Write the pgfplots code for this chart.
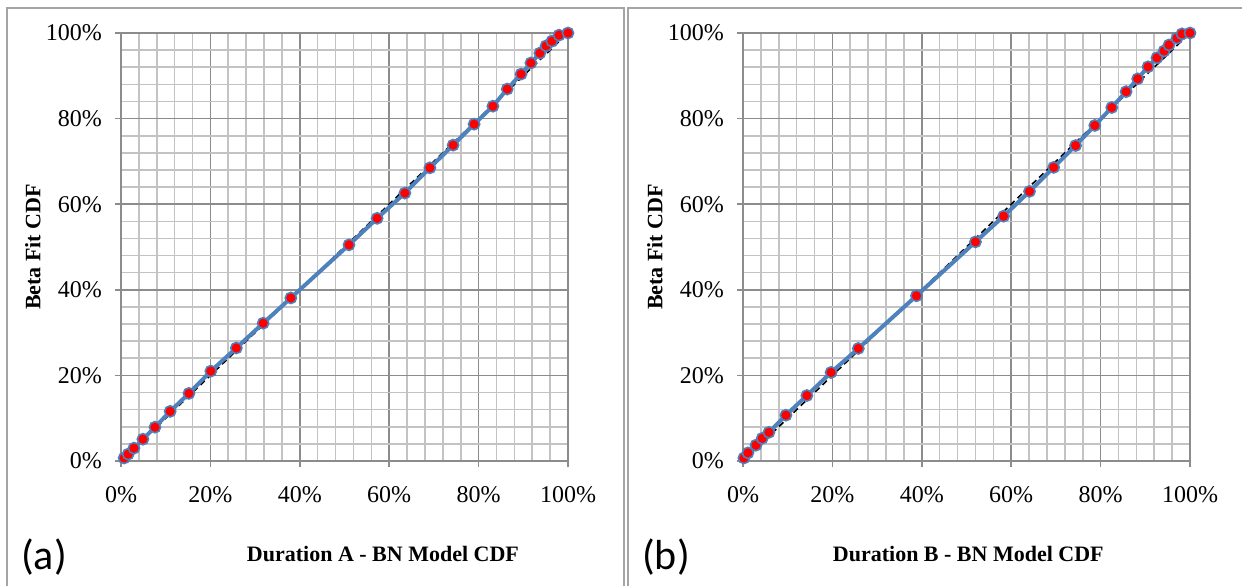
\documentclass[border=0pt]{standalone}
\usepackage{fontspec}
\setmainfont{Liberation Serif}
\newfontfamily\calfont{Carlito}
\usepackage{pgfplots}
\pgfplotsset{compat=1.18}

\definecolor{xlblue}{RGB}{79,129,189}
\definecolor{majgrid}{RGB}{140,140,140}
\definecolor{mingrid}{RGB}{195,195,195}
\definecolor{frame}{RGB}{165,165,165}

\pgfplotsset{
  cdfplot/.style={
    scale only axis,
    width=223.5pt, height=214pt,
    xmin=0, xmax=1, ymin=0, ymax=1,
    xtick={0,0.2,0.4,0.6,0.8,1},
    ytick={0,0.2,0.4,0.6,0.8,1},
    xticklabels={0\%,20\%,40\%,60\%,80\%,100\%},
    yticklabels={0\%,20\%,40\%,60\%,80\%,100\%},
    minor tick num=4,
    grid=both,
    major grid style={majgrid, line width=0.8pt},
    minor grid style={mingrid, line width=0.8pt},
    axis line style={majgrid, line width=0.8pt},
    tick pos=left, tick align=outside,
    major tick length=3pt, minor tick length=0pt,
    tick style={majgrid, line width=0.8pt},
    ticklabel style={font=\fontsize{12}{14}\selectfont},
    xticklabel style={yshift=-6pt},
    yticklabel style={xshift=-3pt},
    label style={font=\fontsize{11}{13}\selectfont\bfseries},
    ylabel={Beta Fit CDF},
    ylabel style={at={(rel axis cs:-0.197,0.5)}, anchor=center},
  },
  diag/.style={black, dashed, line width=0.8pt, dash pattern=on 3pt off 2pt},
  fit/.style={xlblue, line width=2pt, mark=*, mark size=2.8pt,
    mark options={fill=red, draw=xlblue, line width=0.8pt}},
}

\begin{document}
\begin{tikzpicture}
\useasboundingbox (0,0) rectangle (621pt,293pt);
% panel frames
\draw[frame, line width=0.75pt] (3.5pt,0) -- (3.5pt,289pt) -- (312pt,289pt) -- (312pt,0);
\draw[frame, line width=0.75pt] (314pt,0) -- (314pt,289pt) -- (621pt,289pt);

% (a)
\begin{axis}[cdfplot, at={(60.5pt,62.5pt)}, anchor=south west,
  xlabel={Duration A - BN Model CDF},
  xlabel style={at={(rel axis cs:0.586,-0.217)}, anchor=center}]
\addplot[diag] coordinates {(0,0) (1,1)};
\addplot[fit] coordinates {
(0.007,0.007) (0.016,0.016) (0.029,0.030) (0.049,0.051) (0.076,0.079)
(0.110,0.116) (0.152,0.158) (0.201,0.210) (0.258,0.264) (0.318,0.322)
(0.380,0.381) (0.510,0.505) (0.573,0.567) (0.635,0.626) (0.691,0.685)
(0.743,0.738) (0.790,0.787) (0.832,0.829) (0.864,0.869) (0.895,0.904)
(0.917,0.930) (0.937,0.953) (0.951,0.970) (0.964,0.981) (0.980,0.995)
(1.0,1.0)};
\end{axis}
\node[font=\calfont\fontsize{21}{23}\selectfont] at (22pt,14.5pt) {(a)};

% (b)
\begin{axis}[cdfplot, at={(371.5pt,62.5pt)}, anchor=south west,
  xlabel={Duration B - BN Model CDF},
  xlabel style={at={(rel axis cs:0.504,-0.217)}, anchor=center}]
\addplot[diag] coordinates {(0,0) (1,1)};
\addplot[fit] coordinates {
(0.002,0.007) (0.011,0.019) (0.029,0.037) (0.043,0.053) (0.058,0.067)
(0.096,0.107) (0.143,0.153) (0.197,0.207) (0.258,0.263) (0.388,0.386)
(0.520,0.512) (0.583,0.572) (0.641,0.630) (0.695,0.686) (0.744,0.737)
(0.787,0.784) (0.825,0.826) (0.857,0.863) (0.883,0.893) (0.906,0.921)
(0.926,0.942) (0.942,0.958) (0.953,0.972) (0.971,0.988) (0.982,0.998)
(1.0,1.0)};
\end{axis}
\node[font=\calfont\fontsize{21}{23}\selectfont] at (333pt,14.5pt) {(b)};
\end{tikzpicture}
\end{document}
